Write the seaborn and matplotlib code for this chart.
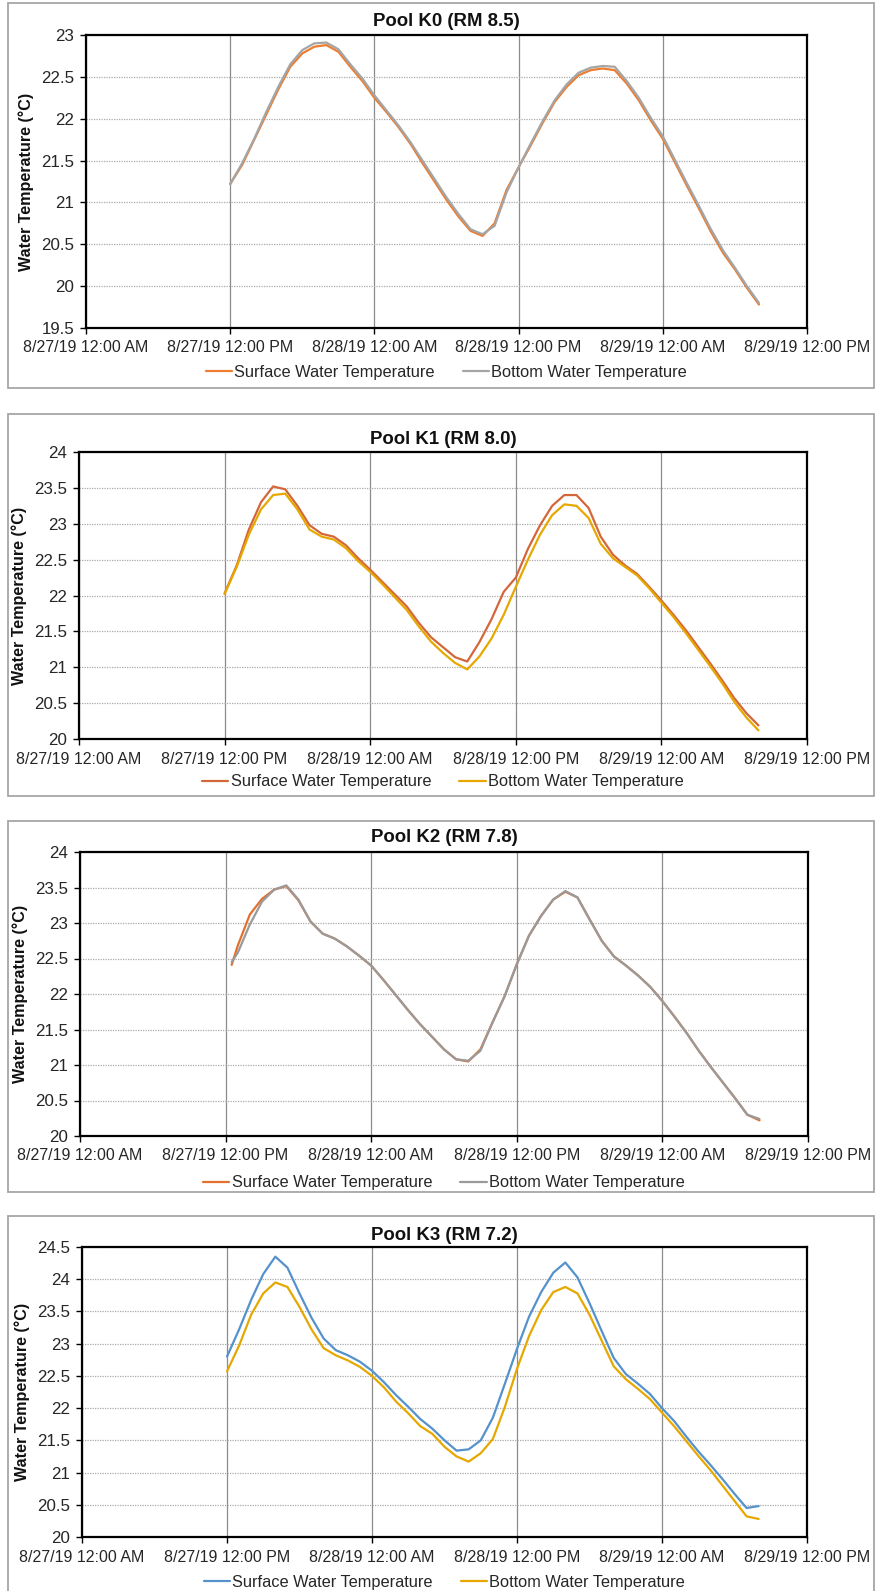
import pandas as pd
import seaborn as sns
import matplotlib.pyplot as plt
from matplotlib.patches import Rectangle
from matplotlib.ticker import FuncFormatter

W, H = 875, 1591

# hours after 8/27/19 12:00 AM
hours = list(range(12, 57))
hours_k2 = [12.5] + list(range(13, 57))

k0_surface = [21.22, 21.45, 21.75, 22.05, 22.35, 22.62, 22.78, 22.86, 22.88, 22.80,
              22.62, 22.45, 22.25, 22.08, 21.90, 21.70, 21.47, 21.25, 21.03, 20.83,
              20.66, 20.60, 20.75, 21.15, 21.42, 21.68, 21.95, 22.20, 22.38, 22.52,
              22.58, 22.60, 22.58, 22.42, 22.22, 21.98, 21.76, 21.48, 21.20, 20.93,
              20.65, 20.40, 20.20, 19.98, 19.78]
k0_bottom = [21.22, 21.47, 21.76, 22.08, 22.38, 22.65, 22.82, 22.90, 22.91, 22.83,
             22.65, 22.48, 22.28, 22.10, 21.92, 21.72, 21.50, 21.28, 21.06, 20.86,
             20.68, 20.62, 20.72, 21.12, 21.42, 21.70, 21.97, 22.22, 22.41, 22.55,
             22.61, 22.63, 22.62, 22.45, 22.25, 22.01, 21.79, 21.51, 21.23, 20.96,
             20.68, 20.43, 20.22, 20.00, 19.80]

k1_surface = [22.03, 22.42, 22.92, 23.30, 23.52, 23.48, 23.25, 22.98, 22.86, 22.82,
              22.70, 22.52, 22.36, 22.19, 22.02, 21.85, 21.62, 21.42, 21.28, 21.14,
              21.08, 21.35, 21.67, 22.05, 22.25, 22.65, 22.98, 23.25, 23.40, 23.40,
              23.22, 22.82, 22.57, 22.42, 22.30, 22.12, 21.93, 21.73, 21.52, 21.29,
              21.06, 20.82, 20.57, 20.36, 20.19]
k1_bottom = [22.02, 22.40, 22.85, 23.20, 23.40, 23.42, 23.20, 22.92, 22.82, 22.78,
             22.66, 22.48, 22.33, 22.16, 21.98, 21.80, 21.57, 21.36, 21.20, 21.06,
             20.97, 21.15, 21.40, 21.73, 22.12, 22.50, 22.85, 23.12, 23.27, 23.25,
             23.08, 22.72, 22.52, 22.40, 22.28, 22.10, 21.90, 21.70, 21.48, 21.25,
             21.02, 20.78, 20.52, 20.30, 20.12]

k2_surface = [22.41, 22.68, 23.12, 23.34, 23.47, 23.52, 23.32, 23.02, 22.85, 22.78,
              22.67, 22.54, 22.40, 22.20, 21.99, 21.78, 21.58, 21.40, 21.22, 21.08,
              21.05, 21.22, 21.60, 21.97, 22.42, 22.82, 23.10, 23.33, 23.44, 23.36,
              23.05, 22.75, 22.53, 22.40, 22.26, 22.10, 21.90, 21.68, 21.45, 21.20,
              20.97, 20.75, 20.53, 20.30, 20.22]
k2_bottom = [22.45, 22.58, 22.98, 23.30, 23.47, 23.53, 23.33, 23.02, 22.85, 22.78,
             22.67, 22.54, 22.40, 22.20, 21.99, 21.78, 21.58, 21.40, 21.22, 21.08,
             21.06, 21.20, 21.60, 21.97, 22.42, 22.82, 23.10, 23.33, 23.45, 23.36,
             23.05, 22.75, 22.53, 22.40, 22.26, 22.10, 21.90, 21.68, 21.45, 21.20,
             20.97, 20.75, 20.53, 20.30, 20.24]

k3_surface = [22.80, 23.22, 23.68, 24.08, 24.35, 24.18, 23.78, 23.40, 23.08, 22.90,
              22.82, 22.72, 22.58, 22.40, 22.20, 22.02, 21.83, 21.68, 21.50, 21.34,
              21.36, 21.50, 21.85, 22.38, 22.92, 23.42, 23.80, 24.10, 24.26, 24.03,
              23.63, 23.20, 22.78, 22.53, 22.38, 22.22, 22.00, 21.80, 21.56, 21.33,
              21.12, 20.90, 20.67, 20.45, 20.48]
k3_bottom = [22.57, 22.97, 23.45, 23.78, 23.95, 23.88, 23.57, 23.22, 22.93, 22.82,
             22.74, 22.64, 22.50, 22.32, 22.10, 21.92, 21.72, 21.60, 21.40, 21.25,
             21.17, 21.30, 21.52, 22.02, 22.61, 23.12, 23.52, 23.80, 23.88, 23.78,
             23.45, 23.05, 22.65, 22.45, 22.30, 22.14, 21.93, 21.72, 21.49, 21.26,
             21.04, 20.80, 20.56, 20.32, 20.28]

x_ticks = [0, 12, 24, 36, 48, 60]
x_labels = ["8/27/19 12:00 AM", "8/27/19 12:00 PM", "8/28/19 12:00 AM",
            "8/28/19 12:00 PM", "8/29/19 12:00 AM", "8/29/19 12:00 PM"]

SURF = "Surface Water Temperature"
BOT = "Bottom Water Temperature"

panels = [
    dict(title="Pool K0 (RM 8.5)", hours=hours, surface=k0_surface, bottom=k0_bottom,
         colors=("#ED7D31", "#A5A5A5"), ylim=(19.5, 23),
         ax_px=(86, 35, 807, 328), box_px=(8, 3, 874, 388), title_y=21, legend_y=372),
    dict(title="Pool K1 (RM 8.0)", hours=hours, surface=k1_surface, bottom=k1_bottom,
         colors=("#D4673A", "#E6A800"), ylim=(20, 24),
         ax_px=(79, 452, 807, 739), box_px=(8, 414, 874, 796), title_y=440, legend_y=782),
    dict(title="Pool K2 (RM 7.8)", hours=hours_k2, surface=k2_surface, bottom=k2_bottom,
         colors=("#E2702F", "#9A9A9A"), ylim=(20, 24),
         ax_px=(80, 852, 808, 1136), box_px=(8, 821, 874, 1192), title_y=837, legend_y=1183),
    dict(title="Pool K3 (RM 7.2)", hours=hours, surface=k3_surface, bottom=k3_bottom,
         colors=("#5592CC", "#E6A800"), ylim=(20, 24.5),
         ax_px=(82, 1247, 807, 1537), box_px=(8, 1216, 874, 1610), title_y=1236, legend_y=1582),
]

sns.set_theme(style="white")
plt.rcParams["font.family"] = ["Liberation Sans", "DejaVu Sans"]

fig = plt.figure(figsize=(W / 100, H / 100), dpi=100)

for p in panels:
    # outer chart frame
    bl, bt, br, bb = p["box_px"]
    fig.patches.append(Rectangle((bl / W, 1 - bb / H), (br - bl) / W, (bb - bt) / H,
                                 transform=fig.transFigure, fill=False,
                                 edgecolor="#A6A6A6", linewidth=1.3))

    l, t, r, b = p["ax_px"]
    ax = fig.add_axes([l / W, 1 - b / H, (r - l) / W, (b - t) / H])

    df = pd.DataFrame({
        "hour": p["hours"] + p["hours"],
        "temp": p["surface"] + p["bottom"],
        "series": [SURF] * len(p["surface"]) + [BOT] * len(p["bottom"]),
    })
    sns.lineplot(data=df, x="hour", y="temp", hue="series", hue_order=[SURF, BOT],
                 palette=dict(zip([SURF, BOT], p["colors"])), linewidth=1.6,
                 legend=False, ax=ax)

    ax.set_xlim(0, 60)
    ax.set_ylim(*p["ylim"])
    ax.set_xticks(x_ticks)
    ax.set_xticklabels(x_labels)
    lo, hi = p["ylim"]
    yt = [lo + 0.5 * i for i in range(int(round((hi - lo) / 0.5)) + 1)]
    ax.set_yticks(yt)
    ax.yaxis.set_major_formatter(FuncFormatter(lambda v, _: f"{v:g}"))

    ax.set_axisbelow(True)
    ax.grid(axis="y", linestyle=(0, (1, 1)), color="#AAAAAA", linewidth=0.9)
    ax.grid(axis="x", linestyle="-", color="#8C8C8C", linewidth=0.9)
    for s in ax.spines.values():
        s.set_color("black")
        s.set_linewidth(1.6)

    ax.tick_params(axis="both", direction="out", length=4.5, width=1, color="black",
                   labelcolor="#262626", left=True, bottom=True)
    ax.tick_params(axis="x", labelsize=11.5, pad=4.5)
    ax.tick_params(axis="y", labelsize=12.2, pad=4)

    ax.set_xlabel("")
    ax.set_ylabel("Water Temperature (°C)", fontsize=11.6, fontweight="bold", color="#111111")
    ax.yaxis.set_label_coords(-(60 - 8) / (r - l), 0.5)

    cx = (l + r) / 2
    fig.text(cx / W, 1 - p["title_y"] / H, p["title"], ha="center", va="center",
             fontsize=13.4, fontweight="bold", color="#111111")

    fig.legend(handles=ax.lines[:2], labels=[SURF, BOT], loc="center",
               bbox_to_anchor=(cx / W, 1 - p["legend_y"] / H), ncol=2, frameon=False,
               fontsize=11.8, handlelength=1.6, handletextpad=0.15, columnspacing=1.7,
               labelcolor="#262626")

fig.savefig("out.png", dpi=100)
